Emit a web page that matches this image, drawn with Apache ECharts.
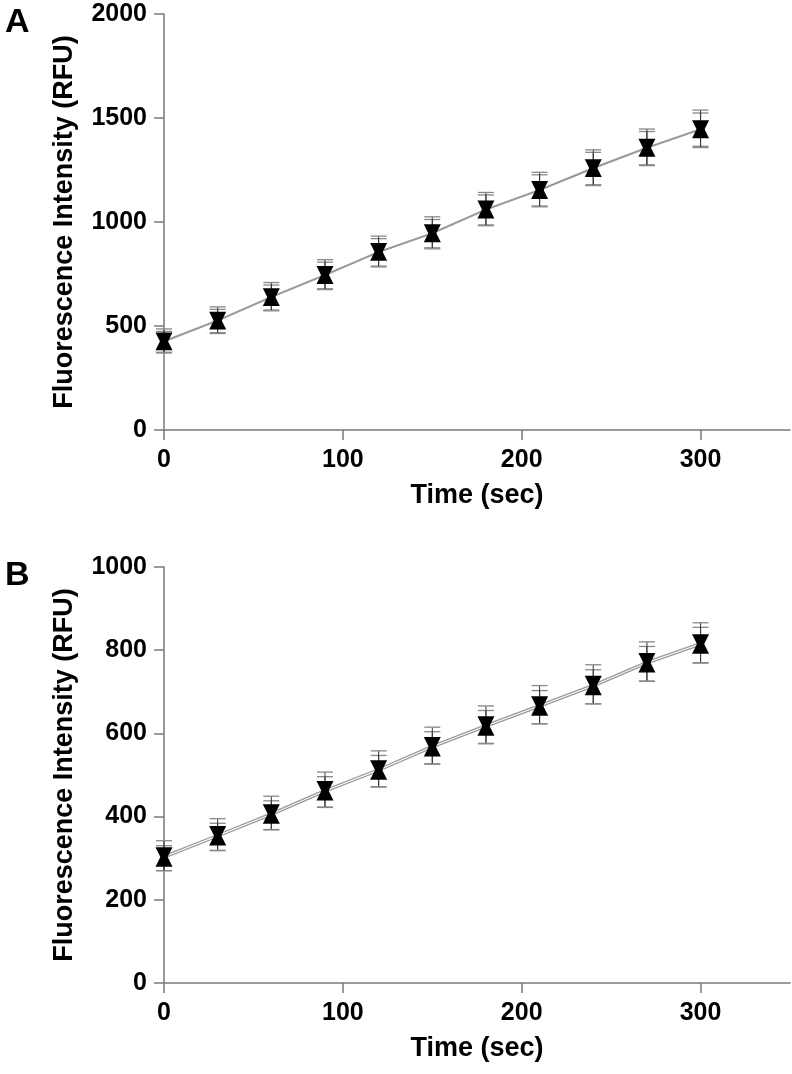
<!DOCTYPE html>
<html>
<head>
<meta charset="utf-8">
<script src="https://cdn.jsdelivr.net/npm/echarts@6/dist/echarts.min.js"></script>
<style>html,body{margin:0;padding:0;background:#fff}#c{width:792px;height:1074px}</style>
</head>
<body>
<div id="c"></div>
<script>
// ---- data ----
const times = [0, 30, 60, 90, 120, 150, 180, 210, 240, 270, 300];
const xTicks = [0, 100, 200, 300];

// Panel A
const aUp = [424, 524, 637, 743, 854, 944, 1058, 1152, 1257, 1355, 1444];
const aUpErr = [50, 56, 60, 64, 66, 68, 72, 75, 78, 80, 80];
const aDown = [428, 528, 641, 747, 858, 948, 1062, 1156, 1261, 1359, 1448];
const aDownErr = [58, 64, 68, 72, 74, 77, 80, 83, 86, 88, 90];

// Panel B
const bUp = [300, 351, 403, 459, 509, 565, 615, 663, 712, 767, 812];
const bUpErr = [30, 33, 35, 37, 38, 39, 40, 40, 41, 42, 43];
const bDown = [306, 357, 409, 465, 515, 571, 621, 669, 718, 773, 818];
const bDownErr = [36, 38, 40, 42, 43, 44, 45, 46, 47, 47, 48];

const FONT = "'Liberation Sans', Arial, Helvetica, sans-serif";
const AXIS_COLOR = '#7a7a7a';

function pairs(vals) { return times.map((t, i) => [t, vals[i]]); }

function errorBars(idx, means, errs) {
  return {
    type: 'custom', xAxisIndex: idx, yAxisIndex: idx, z: 1, silent: true,
    data: times.map((t, i) => [t, means[i] - errs[i], means[i] + errs[i]]),
    encode: { x: 0, y: [1, 2] },
    renderItem: function (params, api) {
      const lo = api.coord([api.value(0), api.value(1)]);
      const hi = api.coord([api.value(0), api.value(2)]);
      const hw = 8;
      return {
        type: 'group', children: [
          { type: 'line', shape: { x1: lo[0], y1: lo[1], x2: hi[0], y2: hi[1] }, style: { stroke: '#333', lineWidth: 1 } },
          { type: 'line', shape: { x1: lo[0] - hw, y1: lo[1], x2: lo[0] + hw, y2: lo[1] }, style: { stroke: '#888', lineWidth: 1.3 } },
          { type: 'line', shape: { x1: hi[0] - hw, y1: hi[1], x2: hi[0] + hw, y2: hi[1] }, style: { stroke: '#888', lineWidth: 1.3 } }
        ]
      };
    }
  };
}

function lineSeries(idx, vals, rotate) {
  return {
    type: 'line', xAxisIndex: idx, yAxisIndex: idx, z: 3,
    data: pairs(vals),
    symbol: 'triangle', symbolSize: [17, 17], symbolRotate: rotate,
    showSymbol: true,
    lineStyle: { color: '#999', width: 1.3 },
    itemStyle: { color: '#000' },
    emphasis: { disabled: true }
  };
}

function plain(v) { return String(v); }

function xAxis(idx) {
  return {
    type: 'value', gridIndex: idx, min: 0, max: 350, interval: 100,
    name: 'Time (sec)', nameLocation: 'middle', nameGap: 52,
    nameTextStyle: { fontFamily: FONT, fontWeight: 'bold', fontSize: 27, color: '#000' },
    axisLine: { show: true, lineStyle: { color: AXIS_COLOR, width: 1.5 } },
    axisTick: { show: true, length: 10, lineStyle: { color: AXIS_COLOR, width: 1.5 }, customValues: xTicks },
    axisLabel: { fontFamily: FONT, fontWeight: 'bold', fontSize: 25, color: '#000', margin: 18, customValues: xTicks, formatter: plain },
    splitLine: { show: false }
  };
}

function yAxis(idx, max, interval) {
  return {
    type: 'value', gridIndex: idx, min: 0, max: max, interval: interval,
    name: 'Fluorescence Intensity (RFU)', nameLocation: 'middle', nameGap: 86,
    nameTextStyle: { fontFamily: FONT, fontWeight: 'bold', fontSize: 27, color: '#000' },
    axisLine: { show: true, lineStyle: { color: AXIS_COLOR, width: 1.5 } },
    axisTick: { show: true, length: 10, lineStyle: { color: AXIS_COLOR, width: 1.5 } },
    axisLabel: { fontFamily: FONT, fontWeight: 'bold', fontSize: 25, color: '#000', margin: 17, formatter: plain },
    splitLine: { show: false }
  };
}

const chart = echarts.init(document.getElementById('c'), null, { renderer: 'canvas' });
chart.setOption({
  animation: false,
  backgroundColor: '#fff',
  title: [
    { text: 'A', left: 0, top: 1, textStyle: { fontFamily: FONT, fontWeight: 'bold', fontSize: 34, color: '#000' } },
    { text: 'B', left: 0, top: 554, textStyle: { fontFamily: FONT, fontWeight: 'bold', fontSize: 34, color: '#000' } }
  ],
  grid: [
    { left: 164, top: 14, right: 2, height: 416 },
    { left: 164, top: 567, right: 2, height: 416 }
  ],
  xAxis: [xAxis(0), xAxis(1)],
  yAxis: [yAxis(0, 2000, 500), yAxis(1, 1000, 200)],
  series: [
    errorBars(0, aUp, aUpErr), errorBars(0, aDown, aDownErr),
    lineSeries(0, aUp, 0), lineSeries(0, aDown, 180),
    errorBars(1, bUp, bUpErr), errorBars(1, bDown, bDownErr),
    lineSeries(1, bUp, 0), lineSeries(1, bDown, 180)
  ]
});
</script>
</body>
</html>
